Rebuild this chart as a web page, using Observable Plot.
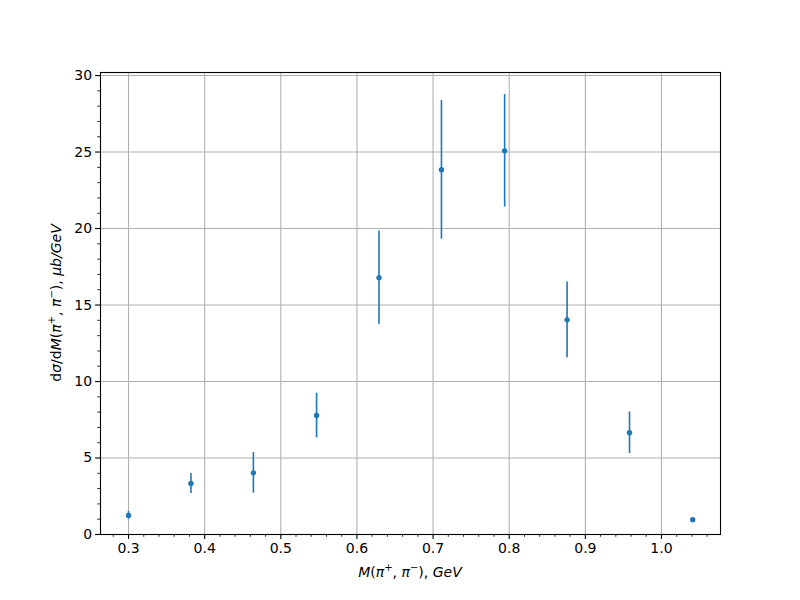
<!DOCTYPE html>
<html><head><meta charset="utf-8">
<script src="https://cdn.jsdelivr.net/npm/d3@7"></script>
<script src="https://cdn.jsdelivr.net/npm/@observablehq/plot@0.6"></script>
<style>
body{margin:0;background:#fff}
svg text{font-family:"DejaVu Sans",sans-serif}
</style>
</head><body><div id="chart"></div>
<script>
// invariant mass bin centres (GeV)
const mass = [0.300, 0.382, 0.464, 0.547, 0.629, 0.711, 0.794, 0.876, 0.958, 1.041];
// cross section dσ/dM (μb/GeV)
const sigma = [1.25, 3.33, 4.03, 7.78, 16.78, 23.84, 25.08, 14.03, 6.65, 0.96];
// symmetric errors
const err = [0.25, 0.65, 1.33, 1.46, 3.06, 4.54, 3.68, 2.47, 1.36, 0.08];
const xTicks = [0.3, 0.4, 0.5, 0.6, 0.7, 0.8, 0.9, 1.0];
const yTicks = [0, 5, 10, 15, 20, 25, 30];
const xMinor = [0.28,0.32,0.34,0.36,0.38,0.42,0.44,0.46,0.48,0.52,0.54,0.56,0.58,0.62,0.64,0.66,0.68,0.72,0.74,0.76,0.78,0.82,0.84,0.86,0.88,0.92,0.94,0.96,0.98,1.02,1.04,1.06];
const yMinor = [1,2,3,4,6,7,8,9,11,12,13,14,16,17,18,19,21,22,23,24,26,27,28,29];

const data = mass.map((m, i) => ({m, s: sigma[i], lo: sigma[i] - err[i], hi: sigma[i] + err[i]}));
const blue = "#1f77b4";

const chart = Plot.plot({
  width: 800, height: 600,
  marginLeft: 100, marginRight: 80, marginTop: 72, marginBottom: 66,
  style: {background: "#fff", fontFamily: "DejaVu Sans", fontSize: "14px", color: "#000"},
  x: {domain: [0.2632, 1.0775], label: null},
  y: {domain: [0, 30.2], label: null},
  marks: [
    Plot.gridX(xTicks, {stroke: "#b0b0b0", strokeOpacity: 1, strokeWidth: 1.1}),
    Plot.gridY(yTicks, {stroke: "#b0b0b0", strokeOpacity: 1, strokeWidth: 1.1}),
    Plot.ruleX(data, {x: "m", y1: "lo", y2: "hi", stroke: blue, strokeWidth: 1.6}),
    Plot.dot(data, {x: "m", y: "s", r: 2.7, fill: blue, stroke: null}),
    Plot.frame({stroke: "#000", strokeWidth: 1.1}),
    Plot.axisX(xTicks, {tickSize: 4.9, tickPadding: 3.5, tickFormat: d3.format(".1f"), fontSize: 14, label: null, strokeWidth: 1.1}),
    Plot.axisX(xMinor, {tickSize: 2.8, text: null, label: null, strokeWidth: 0.8}),
    Plot.axisY(yTicks, {tickSize: 4.9, tickPadding: 3.5, tickFormat: d3.format("d"), fontSize: 14, label: null, strokeWidth: 1.1}),
    Plot.axisY(yMinor, {tickSize: 2.8, text: null, label: null, strokeWidth: 0.8})
  ]
});
document.getElementById("chart").appendChild(chart);

const svg = d3.select(chart);
function addParts(t, parts) {
  for (const p of parts) {
    const ts = t.append("tspan").text(p.t);
    if (p.i) ts.attr("font-style", "italic");
    if (p.sup) ts.attr("font-size", 10).attr("dy", -6);
    if (p.down) ts.attr("dy", 6);
  }
}
const xl = svg.append("text").attr("x", 410).attr("y", 577).attr("text-anchor", "middle").attr("font-size", 14).attr("fill", "#000");
addParts(xl, [{t:"M", i:1},{t:"(", i:0},{t:"π", i:1},{t:"+", sup:1},{t:", ", down:1},{t:"π", i:1},{t:"−", sup:1},{t:"), ", down:1},{t:"GeV", i:1}]);
const yl = svg.append("text").attr("transform", "translate(61,303) rotate(-90)").attr("text-anchor", "middle").attr("font-size", 14).attr("fill", "#000");
addParts(yl, [{t:"d"},{t:"σ", i:1},{t:"/d"},{t:"M", i:1},{t:"("},{t:"π", i:1},{t:"+", sup:1},{t:", ", down:1},{t:"π", i:1},{t:"−", sup:1},{t:"), ", down:1},{t:"μb/GeV", i:1}]);
</script>
</body></html>
